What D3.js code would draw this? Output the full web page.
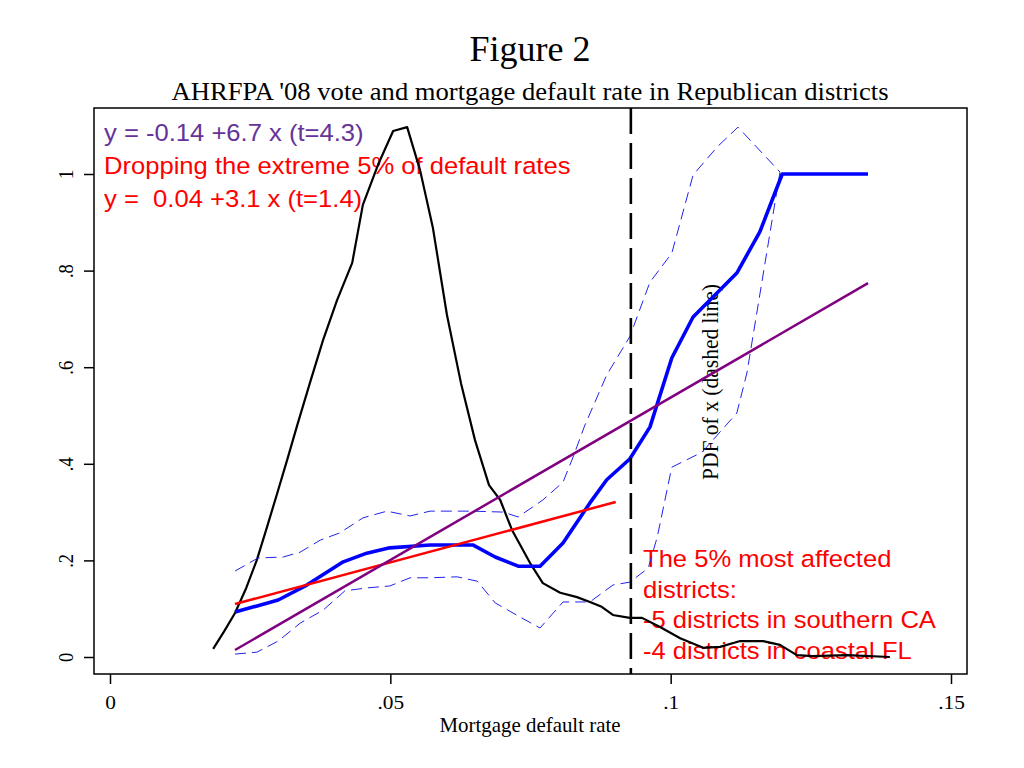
<!DOCTYPE html>
<html><head><meta charset="utf-8">
<script src="https://cdn.jsdelivr.net/npm/d3@7"></script>
<style>body{margin:0;background:#fff}</style>
</head><body><svg id="c" width="1024" height="768"></svg>
<script>
// ---- data ----
const pdfX=[0.0184,0.0203,0.0223,0.0243,0.0262,0.0280,0.0298,0.0316,0.0334,0.0357,0.0380,0.0405,0.0432,0.0451,0.0478,0.0505,0.0530,0.0553,0.0576,0.0601,0.0626,0.0651,0.0676,0.0696,0.0717,0.0749,0.0772,0.0803,0.0833,0.0856,0.0877,0.0897,0.0927,0.0949,0.0981,0.1017,0.1058,0.1088,0.1124,0.1165,0.1195,0.1225,0.1254,0.1314,0.1391];
const pdfY=[0.017,0.052,0.091,0.143,0.201,0.269,0.338,0.408,0.480,0.569,0.656,0.739,0.816,0.936,1.019,1.089,1.097,1.008,0.888,0.708,0.567,0.449,0.356,0.325,0.263,0.195,0.153,0.133,0.124,0.114,0.104,0.087,0.081,0.081,0.062,0.039,0.019,0.021,0.033,0.033,0.025,0.004,0.002,0.004,0.000];

const fitX=[0.0223,0.0300,0.0351,0.0416,0.0458,0.0499,0.0571,0.0647,0.0687,0.0728,0.0767,0.0808,0.0856,0.0886,0.0927,0.0963,0.1002,0.1040,0.1118,0.1159,0.1199,0.1352];
const fitY=[0.093,0.118,0.149,0.197,0.215,0.226,0.232,0.232,0.207,0.188,0.188,0.236,0.319,0.367,0.410,0.476,0.619,0.704,0.795,0.880,1.000,1.000];

const hiX=[0.0223,0.0264,0.0309,0.0339,0.0375,0.0410,0.0451,0.0494,0.0535,0.0571,0.0647,0.0701,0.0728,0.0772,0.0808,0.0826,0.0847,0.0886,0.0927,0.0963,0.1002,0.1040,0.1083,0.1120,0.1195];
const hiY=[0.178,0.205,0.207,0.217,0.242,0.257,0.288,0.302,0.292,0.302,0.302,0.300,0.290,0.325,0.362,0.414,0.480,0.584,0.663,0.776,0.836,0.998,1.056,1.097,1.004];

const loX=[0.0223,0.0262,0.0300,0.0339,0.0380,0.0419,0.0458,0.0499,0.0535,0.0571,0.0619,0.0655,0.0687,0.0731,0.0767,0.0808,0.0856,0.0897,0.0927,0.0960,0.0976,0.1002,0.1056,0.1118,0.1136,0.1195];
const loY=[0.006,0.010,0.033,0.070,0.097,0.137,0.143,0.147,0.164,0.164,0.166,0.157,0.112,0.083,0.060,0.114,0.114,0.149,0.155,0.184,0.248,0.393,0.424,0.505,0.588,1.004];

const olsX=[0.0223,0.1352], olsY=[0.0145,0.774];      // y = -0.14 + 6.7x
const trimX=[0.0223,0.0902], trimY=[0.1097,0.321];    // y = 0.04 + 3.1x
const cutoff=0.0929;

const xTicks=[0,0.05,0.1,0.15], xTickLabels=["0",".05",".1",".15"];
const yTicks=[0,0.2,0.4,0.6,0.8,1], yTickLabels=["0",".2",".4",".6",".8","1"];

const title="Figure 2";
const subtitle="AHRFPA '08 vote and mortgage default rate in Republican districts";
const xTitle="Mortgage default rate";
const pdfLabel="PDF of x (dashed line)";
const noteTop=["y = -0.14 +6.7 x (t=4.3)","Dropping the extreme 5% of default rates","y =  0.04 +3.1 x (t=1.4)"];
const noteBottom=["The 5% most affected","districts:","-5 districts in southern CA","-4 districts in coastal FL"];

// ---- drawing ----
const svg=d3.select("#c");
const box={l:94,r:967,t:108,b:674};
const x=d3.scaleLinear().domain([0,0.15]).range([110,951]);
const y=d3.scaleLinear().domain([0,1]).range([657,174]);
const serif="'Liberation Serif','Times New Roman',serif";
const sans="'Liberation Sans',Arial,Helvetica,sans-serif";
const SX=1.155;   // horizontal stretch of the serif axis text
const SXS=1.08;   // horizontal stretch of the sans annotations

svg.append("rect").attr("width",1024).attr("height",768).attr("fill","#fff");

svg.append("text").attr("x",530).attr("y",61).attr("text-anchor","middle")
  .attr("font-family",serif).attr("font-size",36).text(title);
svg.append("text").attr("x",530).attr("y",100).attr("text-anchor","middle")
  .attr("font-family",serif).attr("font-size",26)
  .attr("textLength",717).attr("lengthAdjust","spacingAndGlyphs").text(subtitle);

// axes
const xAxis=d3.axisBottom(x).tickValues(xTicks).tickFormat((d,i)=>xTickLabels[i]).tickSize(10);
const gx=svg.append("g").attr("transform",`translate(0,${box.b})`).call(xAxis);
gx.select(".domain").remove();
gx.selectAll("line").attr("stroke","#000").attr("stroke-width",1.5);
gx.selectAll(".tick text").attr("font-family",serif).attr("font-size",18.5).attr("fill","#000")
  .attr("y",0).attr("dy",0).attr("transform",`translate(0,35) scale(${SX},1)`);

const yAxis=d3.axisLeft(y).tickValues(yTicks).tickFormat((d,i)=>yTickLabels[i]).tickSize(10);
const gy=svg.append("g").attr("transform",`translate(${box.l},0)`).call(yAxis);
gy.select(".domain").remove();
gy.selectAll("line").attr("stroke","#000").attr("stroke-width",1.5);
gy.selectAll(".tick text").attr("font-family",serif).attr("font-size",18.5).attr("fill","#000")
  .attr("text-anchor","middle").attr("x",0).attr("y",0).attr("dy",0)
  .attr("transform",`translate(-21,0) scale(${SX},1) rotate(-90)`);

svg.append("text").attr("x",530).attr("y",732).attr("text-anchor","middle")
  .attr("font-family",serif).attr("font-size",21.5)
  .attr("textLength",181).attr("lengthAdjust","spacingAndGlyphs").text(xTitle);

// annotations
const colsTop=["#663399","#ff0000","#ff0000"];
noteTop.forEach((t,i)=>svg.append("text").attr("transform",`translate(104,${141+i*33}) scale(${SXS},1)`)
  .attr("font-family",sans).attr("font-size",23.7).attr("fill",colsTop[i])
  .style("white-space","pre").text(t));
noteBottom.forEach((t,i)=>svg.append("text").attr("transform",`translate(643,${567+i*30.5}) scale(${SXS},1)`)
  .attr("font-family",sans).attr("font-size",23.7).attr("fill","#ff0000").text(t));

svg.append("text").attr("transform",`translate(718,382) scale(${SX},1) rotate(-90)`).attr("text-anchor","middle")
  .attr("font-family",serif).attr("font-size",19.5)
  .attr("textLength",196).attr("lengthAdjust","spacingAndGlyphs").text(pdfLabel);

// lines
const line=(xs,ys)=>d3.line().x(i=>x(xs[i])).y(i=>y(ys[i]))(d3.range(xs.length));
svg.append("path").attr("d",line(pdfX,pdfY)).attr("fill","none").attr("stroke","#000").attr("stroke-width",2.2).attr("stroke-linejoin","round");
svg.append("path").attr("d",line(hiX,hiY)).attr("fill","none").attr("stroke","#2222ee").attr("stroke-width",1).attr("stroke-dasharray","11,6");
svg.append("path").attr("d",line(loX,loY)).attr("fill","none").attr("stroke","#2222ee").attr("stroke-width",1).attr("stroke-dasharray","11,6");
svg.append("path").attr("d",line(fitX,fitY)).attr("fill","none").attr("stroke","#0000ff").attr("stroke-width",3.6).attr("stroke-linejoin","round");
svg.append("path").attr("d",line(trimX,trimY)).attr("fill","none").attr("stroke","#ff0000").attr("stroke-width",2.5);
svg.append("path").attr("d",line(olsX,olsY)).attr("fill","none").attr("stroke","#800080").attr("stroke-width",2.5);
svg.append("line").attr("x1",x(cutoff)).attr("x2",x(cutoff)).attr("y1",box.t).attr("y2",box.b)
  .attr("stroke","#000").attr("stroke-width",2.6).attr("stroke-dasharray","26,9");

svg.append("rect").attr("x",box.l).attr("y",box.t).attr("width",box.r-box.l).attr("height",box.b-box.t)
  .attr("fill","none").attr("stroke","#000").attr("stroke-width",1.5);
</script></body></html>
